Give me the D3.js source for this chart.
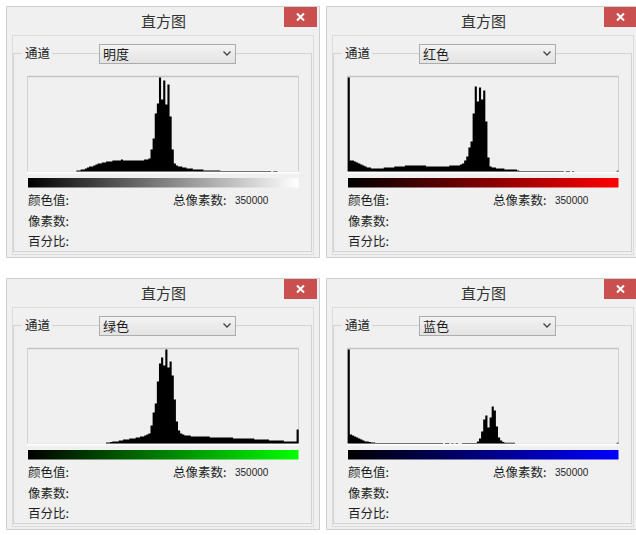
<!DOCTYPE html>
<html>
<head>
<meta charset="utf-8">
<script src="https://cdnjs.cloudflare.com/ajax/libs/d3/7.8.5/d3.min.js"></script>
<style>
body { margin: 0; background: #fff; }
text { font-family: "Noto Sans CJK SC", sans-serif; fill: #1e1e1e; }
.num { font-family: "Liberation Sans", sans-serif; }
</style>
</head>
<body>
<script>
// dialog texts
var windowTitle = "直方图"
var channelLabel = "通道"
var channels = ["明度", "红色", "绿色", "蓝色"]
var gradientEnd = ["#ffffff", "#ff0000", "#00ff00", "#0000ff"]
var infoLabels = ["颜色值:", "像素数:", "百分比:"]
var totalLabel = "总像素数:"
var totalPixels = 350000

// histogram counts, 128 bins per channel (relative, 94 = top of the box)
var lumaBins = [0,0,0,0,0,0,0,0,0,0,0,0,0,0,0,0,0,0,0,0,0,0,0,
  1,1,2,2,3,4,5,5,6,7,8,8,9,9,10,10,10,11,11,11,11,12,11,11,11,11,11,11,11,11,11,11,12,12,13,
  22,33,58,68,94,72,91,67,87,55,22,8,6,
  5,5,4,4,3,3,3,2,2,2,2,2,1,1,1,1,1,1,1,1,
  0.6,0.6,0.6,0.6,0.6,0.6,0.6,0.6,0.6,0.6,0.6,0.6,0.6,0.6,0.6,0.6,0.6,0.6,0.6,0.6,0.6,0.6,0.6,
  0.6,0,0.6,0.6,
  0,0,0,0,0,0,0,0,0,0]

var redBins = [94,
  11,11,10,
  9,8,7,6,5,4,4,
  3,3,3,3,3,3,
  4,4,4,4,4,
  5,5,5,5,5,
  6,6,6,6,6,6,6,6,6,6,
  5,5,5,5,5,5,5,5,5,5,5,
  6,6,6,6,6,
  7,8,11,15,24,30,58,85,70,84,72,81,50,14,5,
  4,4,3,3,3,3,2,2,2,2,2,2,
  1,
  0.6,0.6,0.6,0.6,0.6,0.6,0.6,0.6,0.6,0.6,0.6,0.6,0.6,0.6,0.6,0.6,0.6,0.6,0.6,0.6,
  0.6,0,0.6,0.6,0,0.6,
  0,0,0,0,0,0,0,0,0,0,0,0,0,0,0,0,0,0,0,0,
  0.8]

var greenBins = [0,0,0,0,0,0,0,0,0,0,0,0,0,0,0,0,0,0,0,0,0,0,0,0,0,0,0,0,0,0,0,0,0,0,0,0,0,
  1,1,1.5,2,2,2,3,3,4,4,4,5,5,5,6,6,7,7,8,9,10,
  18,31,40,62,80,86,78,94,76,82,68,44,22,13,10,9,8,
  8,8,7,7,7,7,7,7,7,7,7,6,6,6,6,6,
  6,6,6,6,6,6,5,5,5,5,5,5,5,5,5,5,4,4,4,4,
  4,4,4,3,3,3,3,3,3,3,
  2,2,2,2,2,2,
  14]

var blueBins = [94,
  9,8,7,6,5,4,3,2,2,1.5,1,1,
  0.6,0.6,0.6,0.6,0.6,0.6,0.6,0.6,0.6,0.6,0.6,0.6,0.6,0.6,0.6,0.6,0.6,0.6,0.6,0.6,0.6,0.6,0.6,0.6,0.6,0.6,0.6,0.6,0.6,0.6,0.6,
  0.6,0,0.6,0.6,0,0.6,0,0.6,
  0,0,
  0.6,0.6,0.6,0.6,0.6,0.6,0.6,2,
  5,12,24,28,16,26,37,33,17,6,3,1.5,
  0.8,0.8,0.8,0.8,0.8,
  0,0,0,0,0,0,0,0,0,0,0,0,0,0,0,0,0,0,0,0,0,0,0,0,0,0,0,0,0,0,0,0,0,0,0,0,0,0,0,0,0,0,0,0,0,0,0,0,
  0.8]

var histograms = [lumaBins, redBins, greenBins, blueBins]
var yMax = 94

var svg = d3.select("body").append("svg")
    .attr("width", 636)
    .attr("height", 535)

var defs = svg.append("defs")

// dropdown shading
var dd = defs.append("linearGradient").attr("id", "dropdown")
    .attr("x1", 0).attr("y1", 0).attr("x2", 0).attr("y2", 1)
dd.append("stop").attr("offset", "0%").attr("stop-color", "#f3f3f3")
dd.append("stop").attr("offset", "100%").attr("stop-color", "#e3e3e3")

// scales shared by all four histograms
var xScale = d3.scaleLinear().domain([0, 128]).range([27.7, 298.7])
var yScale = d3.scaleLinear().domain([0, yMax]).range([171.5, 77.5])

var area = d3.area()
    .curve(d3.curveStepAfter)
    .x(function(d) { return xScale(d[0]); })
    .y0(yScale(0))
    .y1(function(d) { return yScale(d[1]); })

channels.forEach(function(name, i) {
  var dx = (i % 2) * 320,
      dy = Math.floor(i / 2) * 272

  var grad = defs.append("linearGradient").attr("id", "grad" + i)
  grad.append("stop").attr("offset", "0%").attr("stop-color", "#000")
  grad.append("stop").attr("offset", "100%").attr("stop-color", gradientEnd[i])

  var g = svg.append("g").attr("transform", "translate(" + dx + "," + dy + ")")

  // window frame
  g.append("rect")
      .attr("x", 6.5).attr("y", 6.5).attr("width", 313).attr("height", 251)
      .attr("fill", "#f0f0f0").attr("stroke", "#cfcfcf")

  g.append("text")
      .attr("x", 163.5).attr("y", 27)
      .attr("text-anchor", "middle")
      .style("font-size", "15px")
      .style("fill", "#333")
      .text(windowTitle)

  // close button
  g.append("rect")
      .attr("x", 284).attr("y", 7).attr("width", 33).attr("height", 20)
      .attr("fill", "#c9504f")
  g.append("path")
      .attr("d", "M297,13.5L304,20.5M304,13.5L297,20.5")
      .attr("stroke", "#fff").attr("stroke-width", 2)

  // client area and group box
  g.append("rect")
      .attr("x", 12.5).attr("y", 35.5).attr("width", 301).attr("height", 219)
      .attr("fill", "none").attr("stroke", "#dcdcdc")
  g.append("rect")
      .attr("x", 13.5).attr("y", 53.5).attr("width", 298).attr("height", 198)
      .attr("fill", "none").attr("stroke", "#d3d3d3")
  g.append("rect")
      .attr("x", 22).attr("y", 46).attr("width", 30).attr("height", 14)
      .attr("fill", "#f0f0f0")
  g.append("text")
      .attr("x", 25).attr("y", 58)
      .style("font-size", "12.5px")
      .text(channelLabel)

  // channel dropdown
  g.append("rect")
      .attr("x", 99.5).attr("y", 44.5).attr("width", 136).attr("height", 19)
      .attr("fill", "url(#dropdown)").attr("stroke", "#acacac")
  g.append("text")
      .attr("x", 103).attr("y", 58.5)
      .style("font-size", "13px")
      .text(name)
  g.append("path")
      .attr("d", "M223.5,51.5L227,55L230.5,51.5")
      .attr("fill", "none").attr("stroke", "#444").attr("stroke-width", 1.3)

  // histogram box
  g.append("rect")
      .attr("x", 27.5).attr("y", 76.5).attr("width", 271).attr("height", 95)
      .attr("fill", "#f0f0f0").attr("stroke", "#d2d2d2")
  g.append("line")
      .attr("x1", 27.5).attr("x2", 298.5).attr("y1", 76.5).attr("y2", 76.5)
      .attr("stroke", "#c2c2c2").attr("stroke-width", 1.5)
  g.append("line")
      .attr("x1", 27).attr("x2", 299).attr("y1", 172.5).attr("y2", 172.5)
      .attr("stroke", "#fff").attr("stroke-width", 2)

  var pts = histograms[i].map(function(v, j) { return [j, v]; })
  pts.push([128, histograms[i][127]])

  g.append("path")
      .datum(pts)
      .attr("fill", "#000")
      .attr("d", area)

  // colour ramp
  g.append("rect")
      .attr("x", 28).attr("y", 178).attr("width", 270.5).attr("height", 9.5)
      .attr("fill", "url(#grad" + i + ")")

  // info labels
  infoLabels.forEach(function(t, k) {
    g.append("text")
        .attr("x", 28).attr("y", 205 + k * 20.5)
        .style("font-size", "12.5px")
        .text(t)
  })
  g.append("text")
      .attr("x", 173).attr("y", 205)
      .style("font-size", "12.5px")
      .text(totalLabel)
  g.append("text")
      .attr("class", "num")
      .attr("x", 235).attr("y", 204)
      .style("font-size", "10px")
      .text(totalPixels)
})
</script>
</body>
</html>
